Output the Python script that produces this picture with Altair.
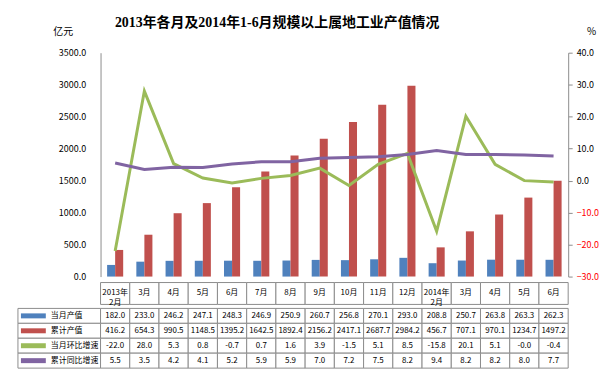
import altair as alt
import pandas as pd

categories = ["2013年2月", "2013年3月", "2013年4月", "2013年5月", "2013年6月", "2013年7月",
              "2013年8月", "2013年9月", "2013年10月", "2013年11月", "2013年12月",
              "2014年2月", "2014年3月", "2014年4月", "2014年5月", "2014年6月"]
header_labels = ["2013年\n2月", "3月", "4月", "5月", "6月", "7月", "8月", "9月", "10月",
                 "11月", "12月", "2014年\n2月", "3月", "4月", "5月", "6月"]
month_output = [182.0, 233.0, 246.2, 247.1, 248.3, 246.9, 250.9, 260.7, 256.8, 270.1,
                293.0, 208.8, 250.7, 263.8, 263.3, 262.3]
cum_output = [416.2, 654.3, 990.5, 1148.5, 1395.2, 1642.5, 1892.4, 2156.2, 2417.1,
              2687.7, 2984.2, 456.7, 707.1, 970.1, 1234.7, 1497.2]
mom_growth = [-22.0, 28.0, 5.3, 0.8, -0.7, 0.7, 1.6, 3.9, -1.5, 5.1, 8.5, -15.8, 20.1,
              5.1, -0.0, -0.4]
yoy_growth = [5.5, 3.5, 4.2, 4.1, 5.2, 5.9, 5.9, 7.0, 7.2, 7.5, 8.2, 9.4, 8.2, 8.2,
              8.0, 7.7]
series_names = ["当月产值", "累计产值", "当月环比增速", "累计同比增速"]
series_colors = ["#4F81BD", "#C0504D", "#9BBB59", "#8064A2"]

all_series = [month_output, cum_output, mom_growth, yoy_growth]

FONT = "Noto Sans CJK SC"
GRID = "#8c8c8c"

bar_df = pd.DataFrame(
    [{"cat": c, "series": series_names[i], "value": all_series[i][j]}
     for i in (0, 1) for j, c in enumerate(categories)]
)
line_df = pd.DataFrame(
    [{"cat": c, "series": series_names[i], "value": all_series[i][j]}
     for i in (2, 3) for j, c in enumerate(categories)]
)
hdr_df = pd.DataFrame({"cat": categories, "label": header_labels})
tbl_df = pd.DataFrame(
    [{"cat": c, "row": series_names[i], "txt": f"{all_series[i][j]:.1f}"}
     for i in range(4) for j, c in enumerate(categories)]
)
leg_df = pd.DataFrame({"row": series_names})

color = alt.Color("series:N", scale=alt.Scale(domain=series_names, range=series_colors), legend=None)

x_top = alt.X("cat:N", sort=categories,
              scale=alt.Scale(domain=categories, paddingInner=0.45, paddingOuter=0.225),
              axis=None)

bars = alt.Chart(bar_df).mark_bar().encode(
    x=x_top,
    xOffset=alt.XOffset("series:N", sort=series_names[:2],
                        scale=alt.Scale(domain=series_names[:2], paddingInner=0, paddingOuter=0)),
    y=alt.Y("value:Q", scale=alt.Scale(domain=[0, 3500], nice=False),
            axis=alt.Axis(values=list(range(0, 3501, 500)), format=".1f", title="亿元",
                          titleAngle=0, titleX=-38, titleY=-21, titleAlign="center",
                          titleBaseline="middle", titleFontWeight="normal", titleFontSize=10,
                          labelFontSize=9, labelPadding=15, ticks=False, grid=False,
                          domainColor=GRID, labelColor="black", titleColor="black")),
    color=color,
)

lines = alt.Chart(line_df).mark_line(strokeWidth=3).encode(
    x=x_top,
    y=alt.Y("value:Q", scale=alt.Scale(domain=[-30, 40], nice=False),
            axis=alt.Axis(orient="right", values=list(range(-30, 41, 10)), format=".1f",
                          title="%", titleAngle=0, titleX=23, titleY=-21, titleAlign="center",
                          titleBaseline="middle", titleFontWeight="normal", titleFontSize=10,
                          labelFontSize=9, labelPadding=4, tickSize=4, tickColor=GRID,
                          grid=False, domainColor=GRID, titleColor="black",
                          labelColor=alt.expr("datum.value < 0 ? '#FF0000' : '#000000'"))),
    color=color,
)

top = alt.layer(bars, lines).resolve_scale(y="independent").properties(width=470, height=225)

x_tbl = alt.X("cat:N", sort=categories,
              scale=alt.Scale(domain=categories, paddingInner=0, paddingOuter=0), axis=None)

hdr_rect = alt.Chart(hdr_df).mark_rect(fill="white", stroke=GRID, strokeWidth=1).encode(x=x_tbl)
hdr_text = alt.Chart(hdr_df).mark_text(lineBreak="\n", fontSize=8, lineHeight=10,
                                       baseline="middle").encode(x=x_tbl, text="label:N")
header = alt.layer(hdr_rect, hdr_text).properties(width=470, height=22)

y_tbl = alt.Y("row:N", sort=series_names,
              scale=alt.Scale(domain=series_names, paddingInner=0, paddingOuter=0), axis=None)

cells = alt.Chart(tbl_df).mark_rect(fill="white", stroke=GRID, strokeWidth=1).encode(x=x_tbl, y=y_tbl)
cell_text = alt.Chart(tbl_df).mark_text(fontSize=8).encode(x=x_tbl, y=y_tbl, text="txt:N")
label_box = alt.Chart(leg_df).mark_rect(fill="white", stroke=GRID, strokeWidth=1).encode(
    x=alt.value(-83), x2=alt.value(0), y=y_tbl)
swatch = alt.Chart(leg_df).mark_rule().encode(
    x=alt.value(-80), x2=alt.value(-55), y=y_tbl,
    color=alt.Color("row:N", scale=alt.Scale(domain=series_names, range=series_colors), legend=None),
    strokeWidth=alt.StrokeWidth("row:N", scale=alt.Scale(domain=series_names, range=[5, 5, 3, 3]),
                                legend=None),
)
label_text = alt.Chart(leg_df).mark_text(align="left", fontSize=8).encode(
    x=alt.value(-50), y=y_tbl, text="row:N")
values = alt.layer(label_box, cells, cell_text, swatch, label_text).properties(width=470, height=60)

chart = alt.vconcat(top, header, values, spacing=0).resolve_scale(color="independent").properties(
    title=alt.Title("2013年各月及2014年1-6月规模以上属地工业产值情况",
                    font="Liberation Serif, Noto Sans CJK SC", fontSize=14, fontWeight="bold",
                    anchor="middle", dx=-31, offset=-3, color="black"),
    padding={"left": 9, "top": 7, "right": 5, "bottom": 5},
).configure(font=FONT).configure_view(stroke=None)

chart.save("out.html", embed_options={"renderer": "svg", "actions": False})
